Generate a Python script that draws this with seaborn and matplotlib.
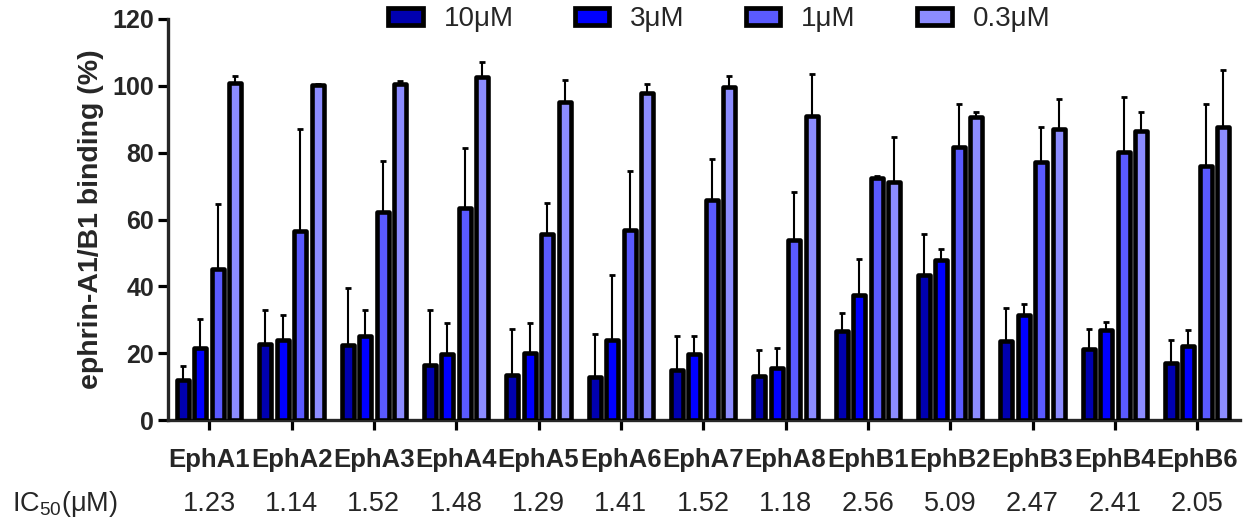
import matplotlib
matplotlib.use("Agg")
import matplotlib.pyplot as plt
from matplotlib import font_manager as fm
from matplotlib.patches import Patch
import seaborn as sns
import pandas as pd

receptors = ["EphA1", "EphA2", "EphA3", "EphA4", "EphA5", "EphA6", "EphA7",
             "EphA8", "EphB1", "EphB2", "EphB3", "EphB4", "EphB6"]
concentrations = ["10μM", "3μM", "1μM", "0.3μM"]
ic50 = ["1.23", "1.14", "1.52", "1.48", "1.29", "1.41", "1.52", "1.18",
        "2.56", "5.09", "2.47", "2.41", "2.05"]

v10 = [12.0, 22.8, 22.3, 16.5, 13.5, 12.8, 15.0, 13.3, 26.5, 43.3, 23.5, 21.3, 17.1]
v3 = [21.5, 24.0, 25.0, 19.8, 20.0, 24.0, 19.8, 15.6, 37.5, 47.8, 31.3, 26.8, 22.1]
v1 = [45.3, 56.6, 62.3, 63.5, 55.8, 57.0, 65.8, 54.0, 72.3, 81.8, 77.3, 80.3, 76.0]
v03 = [100.8, 100.3, 100.5, 102.7, 95.1, 98.0, 99.6, 91.0, 71.3, 90.8, 87.0, 86.6, 87.8]

e10 = [4.3, 10.2, 17.2, 16.5, 13.8, 12.8, 10.0, 7.7, 5.6, 12.3, 10.1, 5.8, 6.9]
e3 = [8.8, 7.5, 7.8, 9.2, 9.1, 19.5, 5.2, 6.0, 10.8, 3.5, 3.3, 2.5, 4.9]
e1 = [19.3, 30.4, 15.3, 17.9, 9.0, 17.5, 12.2, 14.3, 0.7, 12.7, 10.3, 16.3, 18.5]
e03 = [2.0, 0.2, 1.0, 4.3, 6.5, 2.6, 3.2, 12.6, 13.3, 1.3, 9.1, 5.5, 17.0]

colors = ["#0000B0", "#0000FF", "#5A5AFF", "#8C8CFF"]

values = [v10, v3, v1, v03]
errors = [e10, e3, e1, e03]

rows = []
for c, vals, errs in zip(concentrations, values, errors):
    for r, v, e in zip(receptors, vals, errs):
        rows.append({"receptor": r, "conc": c, "value": v, "err": e})
df = pd.DataFrame(rows)

sns.set_theme(style="ticks")
names = {f.name for f in fm.fontManager.ttflist}
main_font = "Liberation Sans" if "Liberation Sans" in names else "DejaVu Sans"
plt.rcParams["font.family"] = [main_font, "DejaVu Sans"]
plt.rcParams["mathtext.default"] = "regular"

fig = plt.figure(figsize=(12.43, 5.25), dpi=100)
ax = fig.add_axes([168 / 1243, 1 - 420 / 525, (1240 - 168) / 1243, (420 - 19) / 525])

sns.barplot(data=df, x="receptor", y="value", hue="conc", order=receptors,
            hue_order=concentrations, palette=colors, width=0.85, gap=0.32,
            edgecolor="black", linewidth=3.3, errorbar=None, legend=False,
            saturation=1, ax=ax)

for cont, errs in zip(ax.containers, errors):
    xs, ys = [], []
    for p in cont:
        p.set_joinstyle("round")
        p.set_zorder(3)
        xs.append(p.get_x() + p.get_width() / 2)
        ys.append(p.get_height())
    ax.errorbar(xs, ys, yerr=[[0] * len(errs), errs], fmt="none", ecolor="black",
                elinewidth=1.5, capsize=2.0, capthick=2.0, zorder=2)

ax.set_ylim(0, 120)
ax.set_xlim(-0.5, 12.52)
ax.set_yticks([0, 20, 40, 60, 80, 100, 120])
ax.set_xlabel("")
ax.set_ylabel("ephrin-A1/B1 binding (%)", fontsize=20.5, fontweight="bold", labelpad=6)
sns.despine(ax=ax)
for s in ["left", "bottom"]:
    ax.spines[s].set_linewidth(2.4)
ax.tick_params(axis="both", length=7, width=2.3, color="black")
ax.tick_params(axis="x", pad=13)
ax.tick_params(axis="y", pad=3)
for lab in ax.get_xticklabels():
    lab.set_fontsize(18.5)
    lab.set_fontweight("bold")
for lab in ax.get_yticklabels():
    lab.set_fontsize(18)
    lab.set_fontweight("bold")

trans = ax.get_xaxis_transform()
for i, t in enumerate(ic50):
    ax.text(i, -0.21, t, transform=trans, ha="center", va="center", fontsize=19.5)
fig.text(12 / 1243, 1 - 504 / 525, "IC$_{50}$(μM)", ha="left", va="center", fontsize=19.5)

handles = [Patch(facecolor=c, edgecolor="black", linewidth=3.4, joinstyle="round")
           for c in colors]
fig.legend(handles, concentrations, loc="center", ncol=4, frameon=False,
           bbox_to_anchor=(719 / 1243, 1 - 19.5 / 525), bbox_transform=fig.transFigure,
           prop={"size": 20},
           handlelength=1.25, handleheight=0.55, handletextpad=0.75, columnspacing=2.2,
           borderpad=0.1)

fig.savefig("out.png", dpi=100)
